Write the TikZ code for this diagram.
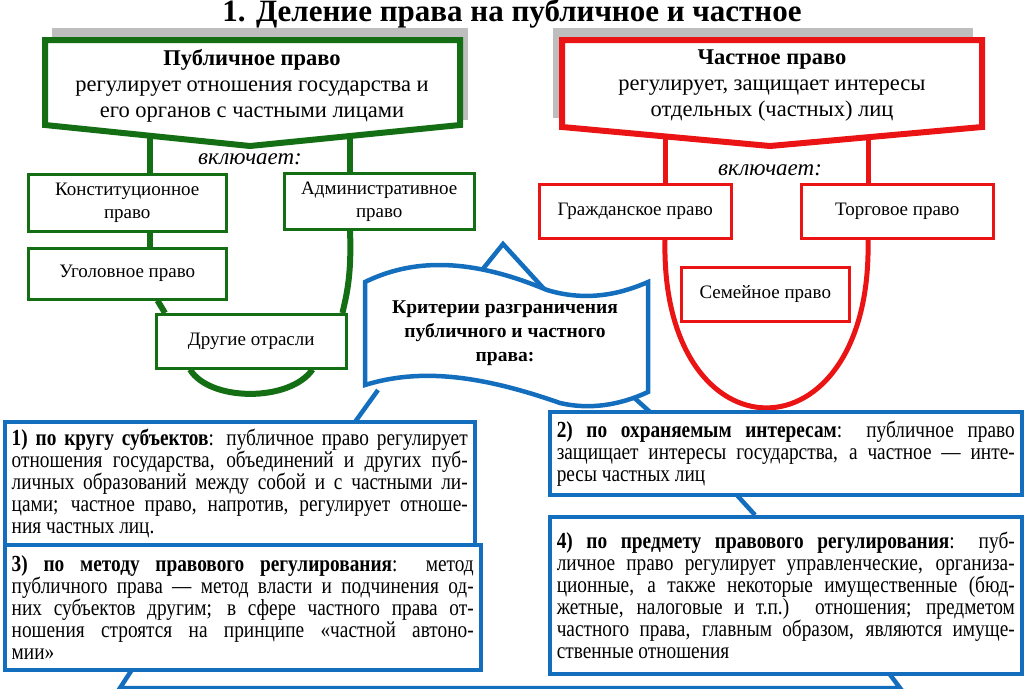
\documentclass[tikz,border=0pt]{standalone}
\usepackage{fontspec}
\setmainfont{Liberation Serif}
\newfontfamily\narrowserif[FakeStretch=0.84]{Liberation Serif}
\usetikzlibrary{positioning}
\pgfdeclarelayer{background}
\pgfsetlayers{background,main}
\definecolor{pubgreen}{RGB}{20,110,20}
\definecolor{privred}{RGB}{235,20,20}
\definecolor{critblue}{RGB}{20,110,190}
\definecolor{shadowgray}{RGB}{190,190,190}
\tikzset{
    branch/.style={
           rectangle,
           draw, line width=2.5pt,
           fill=white,
           anchor=north west,
           inner sep=3pt,
           align=center,
           font=\fontsize{19}{23}\selectfont
           },
    crit/.style={
           rectangle,
           draw=critblue, line width=3.5pt,
           fill=white,
           anchor=north west,
           inner sep=7pt,
           align=justify,
           font=\narrowserif\fontsize{23}{22}\selectfont
           },
    head/.style={
           align=center,
           font=\fontsize{22.5}{26}\selectfont
           },
}
\begin{document}
\begin{tikzpicture}[x=1pt,y=-1pt]
             \useasboundingbox (0,0) rectangle (1024,688);

             \node[font=\bfseries\fontsize{31}{32}\selectfont] (TITLE) at (512,14)
             {1. Деление права на публичное и частное};

             % public law
             \fill[shadowgray] (52,28) rectangle (468,120);
             \draw[pubgreen, line width=6pt, fill=white, line join=miter]
                (45,40) -- (460,40) -- (460,125) -- (250,146) -- (45,125) -- cycle;
             \node[head] (PUB) at (252,86)
             {\textbf{Публичное право}\\
              регулирует отношения государства и\\
              его органов с частными лицами};
             \coordinate (PUBL) at (150,128);
             \coordinate (PUBR) at (350,128);
             \node[font=\itshape\fontsize{23}{24}\selectfont] (PUBINC) at (250,159) {включает:};

             \node[branch, draw=pubgreen, minimum width=198, minimum height=57] (KONST) at (27,173)
             {Конституционное\\право};
             \node[branch, draw=pubgreen, minimum width=190, minimum height=56] (ADMIN) at (283,172)
             {Административное\\право};
             \node[branch, draw=pubgreen, minimum width=198, minimum height=51] (UGOL) at (27,247)
             {Уголовное право};
             \node[branch, draw=pubgreen, minimum width=190, minimum height=54] (OTHER) at (155,313)
             {Другие отрасли};

             % private law
             \fill[shadowgray] (553,28) rectangle (973,118);
             \draw[privred, line width=6pt, fill=white, line join=miter]
                (562,40) -- (982,40) -- (982,127) -- (770,146) -- (562,127) -- cycle;
             \node[head] (PRIV) at (772,86)
             {\textbf{Частное право}\\
              регулирует, защищает интересы\\
              отдельных (частных) лиц};
             \coordinate (PRIVL) at (665,130);
             \coordinate (PRIVR) at (868,130);
             \node[font=\itshape\fontsize{23}{24}\selectfont] (PRIVINC) at (770,170) {включает:};

             \node[branch, draw=privred, minimum width=192, minimum height=54] (CIVIL) at (538,183)
             {Гражданское право};
             \node[branch, draw=privred, minimum width=192, minimum height=54] (TRADE) at (800,183)
             {Торговое право};
             \node[branch, draw=privred, minimum width=168, minimum height=54] (FAMILY) at (680,266)
             {Семейное право};

             % criteria
             \draw[critblue, line width=4.5pt, fill=white]
                (365,282) .. controls (420,255) and (480,262) .. (547,290)
                .. controls (590,303) and (625,292) .. (648,282)
                -- (648,392) .. controls (620,405) and (590,410) .. (560,403)
                .. controls (480,375) and (420,368) .. (365,385) -- cycle;
             \node[font=\bfseries\fontsize{19.5}{24}\selectfont, align=center] (CRIT) at (505,333)
             {Критерии разграничения\\публичного и частного\\права:};
             \coordinate (CRITTOP) at (503,244);
             \coordinate (CRITBL) at (378,390);
             \coordinate (CRITBR) at (630,394);

             \node[crit, text width=456, minimum height=122] (SUBJ) at (3,420)
             {\textbf{1) по кругу субъектов}: публичное право регулирует\linebreak
              отношения государства, объединений и других пуб-\linebreak
              личных образований между собой и с частными ли-\linebreak
              цами; частное право, напротив, регулирует отноше-\linebreak
              ния частных лиц.};
             \node[crit, text width=462, minimum height=125] (METH) at (3,543)
             {\textbf{3) по методу правового регулирования}: метод\linebreak
              публичного права — метод власти и подчинения од-\linebreak
              них субъектов другим; в сфере частного права от-\linebreak
              ношения строятся на принципе «частной автоно-\linebreak
              мии»};
             \node[crit, text width=458, minimum height=83] (INTR) at (548,410)
             {\textbf{2) по охраняемым интересам}: публичное право\linebreak
              защищает интересы государства, а частное — инте-\linebreak
              ресы частных лиц};
             \node[crit, text width=458, minimum height=157] (SUBJM) at (548,515)
             {\textbf{4) по предмету правового регулирования}: пуб-\linebreak
              личное право регулирует управленческие, организа-\linebreak
              ционные, а также некоторые имущественные (бюд-\linebreak
              жетные, налоговые и т.п.) отношения; предметом\linebreak
              частного права, главным образом, являются имуще-\linebreak
              ственные отношения};
             \coordinate (BASEL) at (120,688);
             \coordinate (BASER) at (900,688);

             \begin{pgfonlayer}{background}
             \draw[pubgreen, line width=6pt] (PUBL) -- (PUBL |- KONST.north);
             \draw[pubgreen, line width=6pt] (PUBR) -- (PUBR |- ADMIN.north);
             \draw[pubgreen, line width=6pt] (KONST.south -| PUBL) -- (UGOL.north -| PUBL);
             \draw[pubgreen, line width=6pt] (ADMIN.south -| PUBR) .. controls (352,280) and (345,300) .. ([xshift=-5pt]OTHER.north east);
             \draw[pubgreen, line width=6pt] ([xshift=-70pt]UGOL.south east) -- ([xshift=10pt]OTHER.north west);
             \draw[pubgreen, line width=6pt] ([xshift=35pt]OTHER.south west) .. controls (210,402) and (290,402) .. ([xshift=-35pt]OTHER.south east);

             \draw[privred, line width=5pt] (PRIVL) -- (PRIVL |- CIVIL.north);
             \draw[privred, line width=5pt] (PRIVR) -- (PRIVR |- TRADE.north);
             \draw[privred, line width=5pt] (CIVIL.south -| PRIVL) .. controls (660,464) and (873,464) .. (TRADE.south -| PRIVR);

             \draw[critblue, line width=4.5pt, line join=miter] (478,275) -- (CRITTOP) -- (545,290);
             \draw[critblue, line width=4.5pt] (CRITBL) -- (355,422);
             \draw[critblue, line width=4.5pt] (CRITBR) -- (650,412);
             \draw[critblue, line width=4.5pt] (735,493) -- (755,515);
             \draw[critblue, line width=4.5pt] (133,668) -- (BASEL) -- (BASER) -- (888,672);
             \end{pgfonlayer}
        
        \end{tikzpicture}
\end{document}
